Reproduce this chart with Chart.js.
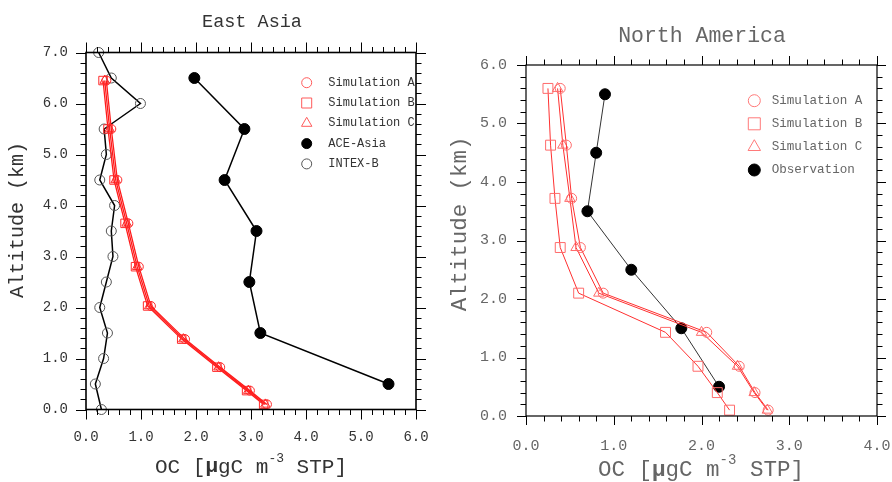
<!DOCTYPE html>
<html>
<head>
<meta charset="utf-8">
<script src="https://cdn.jsdelivr.net/npm/chart.js@4.4.1/dist/chart.umd.min.js"></script>
<style>
body { margin: 0; background: #fff; }
#wrap { position: relative; width: 892px; height: 482px; }
canvas { position: absolute; top: 0; }
</style>
</head>
<body>
<div id="wrap">
  <canvas id="eastAsia" width="446" height="482" style="left:0"></canvas>
  <canvas id="northAmerica" width="446" height="482" style="left:446px"></canvas>
</div>
<script>
// ---- East Asia data (OC in ugC/m3, altitude in km)
const eaSimAlt = [6.45, 5.5, 4.5, 3.65, 2.8, 2.03, 1.38, 0.83, 0.37, 0.1];
const eaSimA = [0.37, 0.46, 0.57, 0.77, 0.96, 1.18, 1.80, 2.44, 2.98, 3.29];
const eaSimB = [0.31, 0.40, 0.51, 0.71, 0.90, 1.12, 1.74, 2.38, 2.92, 3.23];
const eaSimC = [0.34, 0.43, 0.54, 0.74, 0.93, 1.15, 1.77, 2.41, 2.95, 3.26];
const aceAlt = [6.5, 5.5, 4.5, 3.5, 2.5, 1.5, 0.5];
const aceOC = [1.97, 2.88, 2.52, 3.10, 2.97, 3.17, 5.50];
const intexAlt = [7.0, 6.5, 6.0, 5.5, 5.0, 4.5, 4.0, 3.5, 3.0, 2.5, 2.0, 1.5, 1.0, 0.5, 0.0];
const intexOC = [0.23, 0.46, 0.99, 0.33, 0.37, 0.25, 0.52, 0.46, 0.49, 0.37, 0.25, 0.39, 0.32, 0.17, 0.28];

// ---- North America data
const naSimAlt = [5.6, 4.63, 3.72, 2.88, 2.1, 1.43, 0.85, 0.4, 0.1];
const naSimA = [0.39, 0.46, 0.52, 0.62, 0.88, 2.06, 2.43, 2.61, 2.76];
const naSimB = [0.25, 0.28, 0.33, 0.39, 0.60, 1.59, 1.96, 2.18, 2.32];
const naSimC = [0.36, 0.42, 0.50, 0.57, 0.83, 2.00, 2.41, 2.60, 2.75];
const obsAlt = [5.5, 4.5, 3.5, 2.5, 1.5, 0.5];
const obsOC = [0.90, 0.80, 0.70, 1.20, 1.77, 2.20];

const FONT = '"Liberation Mono", "DejaVu Sans Mono", monospace';

function pts(xs, ys) {
  return xs.map((x, i) => ({ x: x, y: ys[i] }));
}

// draws the box, the outward major/minor ticks, titles and the legend
const framePlugin = {
  id: 'frame',
  afterDraw(chart, args, o) {
    const ctx = chart.ctx;
    const a = chart.chartArea;
    const xs = chart.scales.x, ys = chart.scales.y;
    ctx.save();
    ctx.strokeStyle = '#000';
    ctx.lineWidth = o.lineWidth;
    ctx.strokeRect(a.left, a.top, a.right - a.left, a.bottom - a.top);

    ctx.lineWidth = 1;
    ctx.beginPath();
    for (let i = 0; i <= Math.round(xs.max / 0.2); i++) {
      const len = i % 5 === 0 ? o.major : o.minor;
      const px = Math.round(xs.getPixelForValue(i * 0.2)) + 0.5;
      ctx.moveTo(px, a.bottom); ctx.lineTo(px, a.bottom + len);
      ctx.moveTo(px, a.top); ctx.lineTo(px, a.top - len);
    }
    for (let i = 0; i <= Math.round(ys.max / 0.2); i++) {
      const len = i % 5 === 0 ? o.major : o.minor;
      const py = Math.round(ys.getPixelForValue(i * 0.2)) + 0.5;
      ctx.moveTo(a.left, py); ctx.lineTo(a.left - len, py);
      ctx.moveTo(a.right, py); ctx.lineTo(a.right + len, py);
    }
    ctx.stroke();

    // title
    ctx.fillStyle = o.textColor;
    ctx.textAlign = 'center';
    ctx.textBaseline = 'alphabetic';
    ctx.font = o.titleSize + 'px ' + FONT;
    ctx.fillText(o.title, o.titleX, o.titleY);

    // y axis title
    ctx.save();
    ctx.translate(o.yTitleX, o.yTitleY);
    ctx.rotate(-Math.PI / 2);
    ctx.textBaseline = 'middle';
    ctx.font = o.axisSize + 'px ' + FONT;
    ctx.fillText('Altitude (km)', 0, 0);
    ctx.restore();

    // x axis title with bold mu and superscript
    const s = o.xAxisSize;
    const parts = [
      { t: 'OC [', f: s + 'px ' + FONT, dy: 0 },
      { t: 'μ', f: 'bold ' + s + 'px ' + FONT, dy: 0 },
      { t: 'gC m', f: s + 'px ' + FONT, dy: 0 },
      { t: '-3', f: Math.round(s * 0.6) + 'px ' + FONT, dy: -s * 0.42 },
      { t: ' STP]', f: s + 'px ' + FONT, dy: 0 }
    ];
    let total = 0;
    parts.forEach(p => { ctx.font = p.f; p.w = ctx.measureText(p.t).width; total += p.w; });
    let cx = o.xTitleX - total / 2;
    ctx.textAlign = 'left';
    ctx.textBaseline = 'middle';
    parts.forEach(p => { ctx.font = p.f; ctx.fillText(p.t, cx, o.xTitleY + p.dy); cx += p.w; });

    // legend
    ctx.font = o.legendSize + 'px ' + FONT;
    chart.data.datasets.forEach((d, i) => {
      const y = o.legY + i * o.legDy;
      const x = o.legX;
      const r = o.legR;
      ctx.beginPath();
      if (d.pointStyle === 'rect') {
        ctx.rect(x - r, y - r, 2 * r, 2 * r);
      } else if (d.pointStyle === 'triangle') {
        const t = r * 1.2;
        ctx.moveTo(x, y - t);
        ctx.lineTo(x + t * 0.866, y + t * 0.5);
        ctx.lineTo(x - t * 0.866, y + t * 0.5);
        ctx.closePath();
      } else {
        ctx.arc(x, y, r, 0, Math.PI * 2);
      }
      ctx.lineWidth = 1;
      ctx.strokeStyle = d.legendColor || d.pointBorderColor;
      if (d.pointBackgroundColor !== 'transparent') {
        ctx.fillStyle = d.pointBackgroundColor;
        ctx.fill();
      }
      ctx.stroke();
      ctx.fillStyle = o.textColor;
      ctx.textAlign = 'left';
      ctx.textBaseline = 'middle';
      ctx.fillText(d.label, o.legTextX, y);
    });
    ctx.restore();
  }
};

function simSet(label, style, radius, xs, alt, lineColor, markColor, lw, legendColor) {
  return {
    label: label,
    data: pts(xs, alt),
    showLine: true,
    borderColor: lineColor,
    borderWidth: lw,
    pointStyle: style,
    pointRadius: radius,
    pointHoverRadius: radius,
    pointBorderColor: markColor,
    pointBackgroundColor: 'transparent',
    pointBorderWidth: 1,
    legendColor: legendColor,
    clip: false
  };
}

function obsSet(label, xs, alt, filled, radius, lineColor, lw, markColor) {
  return {
    label: label,
    data: pts(xs, alt),
    showLine: true,
    borderColor: lineColor,
    borderWidth: lw,
    pointStyle: 'circle',
    pointRadius: radius,
    pointHoverRadius: radius,
    pointBorderColor: markColor,
    pointBackgroundColor: filled ? '#000' : 'transparent',
    pointBorderWidth: 1,
    clip: false
  };
}

function makeChart(id, datasets, cfg) {
  return new Chart(document.getElementById(id), {
    type: 'scatter',
    data: { datasets: datasets },
    options: {
      responsive: false,
      animation: false,
      devicePixelRatio: 1,
      layout: { padding: { left: 0, right: cfg.padRight, top: cfg.padTop, bottom: 0 } },
      plugins: {
        legend: { display: false },
        tooltip: { enabled: false },
        frame: cfg.frame
      },
      scales: {
        x: {
          type: 'linear', min: 0, max: cfg.xMax,
          afterFit(s) { s.height = cfg.xHeight; s.paddingLeft = 0; s.paddingRight = 0; },
          grid: { display: false, drawTicks: false },
          border: { display: false },
          ticks: {
            stepSize: 1, autoSkip: false, maxRotation: 0,
            padding: cfg.xPad, color: cfg.frame.textColor,
            font: { family: FONT, size: cfg.tickSize },
            callback: v => v.toFixed(1)
          }
        },
        y: {
          type: 'linear', min: 0, max: cfg.yMax,
          afterFit(s) { s.width = cfg.yWidth; s.paddingTop = 0; s.paddingBottom = 0; },
          grid: { display: false, drawTicks: false },
          border: { display: false },
          ticks: {
            stepSize: 1, autoSkip: false,
            padding: cfg.yPad, color: cfg.frame.textColor,
            font: { family: FONT, size: cfg.tickSize },
            callback: v => v.toFixed(1)
          }
        }
      }
    },
    plugins: [framePlugin]
  });
}

makeChart('eastAsia', [
  simSet('Simulation A', 'circle', 4.5, eaSimA, eaSimAlt, '#ff1a1a', '#ff2a2a', 1.3, '#ff5a5a'),
  simSet('Simulation B', 'rect', 6, eaSimB, eaSimAlt, '#ff1a1a', '#ff2a2a', 1.3, '#ff5a5a'),
  simSet('Simulation C', 'triangle', 5.5, eaSimC, eaSimAlt, '#ff1a1a', '#ff2a2a', 1.3, '#ff5a5a'),
  obsSet('ACE-Asia', aceOC, aceAlt, true, 5.5, '#000', 1.5, '#000'),
  obsSet('INTEX-B', intexOC, intexAlt, false, 5, '#000', 1.5, '#555')
], {
  xMax: 6, yMax: 7, padRight: 30, padTop: 52.5, xHeight: 72.5, yWidth: 86,
  xPad: 19, yPad: 18, tickSize: 14,
  frame: {
    lineWidth: 1.6, major: 10, minor: 5.5, textColor: '#333',
    title: 'East Asia', titleSize: 18.5, titleX: 252, titleY: 27,
    axisSize: 20, yTitleX: 18, yTitleY: 220,
    xAxisSize: 21, xTitleX: 251, xTitleY: 467,
    legendSize: 12, legX: 306.7, legTextX: 328.3, legY: 82.7, legDy: 20.3, legR: 5
  }
});

makeChart('northAmerica', [
  simSet('Simulation A', 'circle', 5, naSimA, naSimAlt, '#ff3030', '#ff6a6a', 1, '#ff7a7a'),
  simSet('Simulation B', 'rect', 7, naSimB, naSimAlt, '#ff3030', '#ff6a6a', 1, '#ff7a7a'),
  simSet('Simulation C', 'triangle', 6, naSimC, naSimAlt, '#ff3030', '#ff6a6a', 1, '#ff7a7a'),
  obsSet('Observation', obsOC, obsAlt, true, 5.5, '#333', 1, '#000')
], {
  xMax: 4, yMax: 6, padRight: 15, padTop: 65, xHeight: 66, yWidth: 80,
  xPad: 21, yPad: 19, tickSize: 15,
  frame: {
    lineWidth: 1.2, major: 9, minor: 5.5, textColor: '#666',
    title: 'North America', titleSize: 21.5, titleX: 256, titleY: 42,
    axisSize: 22.4, yTitleX: 14, yTitleY: 224,
    xAxisSize: 22.5, xTitleX: 255, xTitleY: 470,
    legendSize: 12.6, legX: 308.3, legTextX: 325.7, legY: 100.7, legDy: 23.1, legR: 6
  }
});
</script>
</body>
</html>
